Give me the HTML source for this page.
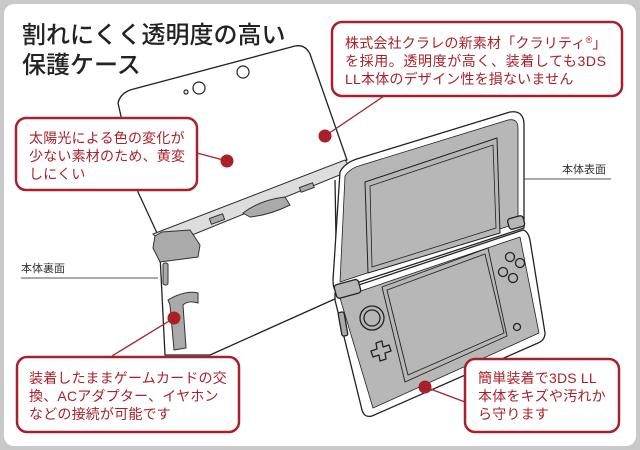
<!DOCTYPE html>
<html><head><meta charset="utf-8"><style>
html,body{margin:0;padding:0;background:#c8c8c8;}
body{width:640px;height:450px;overflow:hidden;}
svg{display:block}
text{font-family:"Liberation Sans","Noto Sans CJK JP",sans-serif;}
</style></head><body>
<svg width="640" height="450" viewBox="0 0 640 450" xmlns="http://www.w3.org/2000/svg">
<rect x="0" y="0" width="640" height="450" fill="#c9c9c9"/>
<rect x="4" y="4" width="632" height="442" rx="10" fill="#fff"/>

<!-- back shell lid -->
<g stroke="#222" stroke-width="1.3" stroke-linejoin="round" fill="#fff">
<path d="M118,103 Q120,94 130,90 L295,46 Q305,44 310,54 L347,160 L157,233 L138,192 Z"/>
<path d="M155,240 L160,255 L165,355 L210,355 L337,298 L335,180"/>
</g>
<g fill="#fff" stroke="#222" stroke-width="1.2">
<circle cx="243" cy="72" r="6"/><circle cx="199" cy="88" r="6"/><circle cx="186" cy="92" r="2"/>
</g>
<path d="M153,234 L345,160 L352,170 L165,246 Z" fill="#ddd" stroke="#333" stroke-width="1"/>
<path d="M155,236 L162,232 L190,230 L200,245 L198,257 L160,262 L153,248 Z" fill="#aaa" stroke="#333" stroke-width="1"/>
<path d="M243,213 Q260,200 285,197 L290,205 Q270,215 250,217 Z" fill="#aaa" stroke="#333" stroke-width="1"/>
<rect x="210" y="216" width="14" height="6" fill="#aaa" stroke="#333" transform="rotate(-20 217 219)"/>
<rect x="300" y="185" width="14" height="5" fill="#aaa" stroke="#333" transform="rotate(-20 307 188)"/>
<rect x="163" y="263" width="5" height="22" rx="2" fill="#aaa" stroke="#333"/>
<path d="M168,300 Q185,290 198,293 L198,303 Q188,300 183,305 L186,348 L174,350 L170,305 Z" fill="#aaa" stroke="#333" stroke-width="1"/>

<!-- front device -->
<g stroke="#222" stroke-width="1.3" stroke-linejoin="round">
<path d="M340,172 Q345,162 360,158 L510,112 Q524,110 524,125 L524,228 L335,290 Q333,287 333,280 Z" fill="#fff"/>
<path d="M345,176 Q350,168 362,165 L508,120 Q518,118 518,128 L518,223 L340,282 Z" fill="#b7b7b7" stroke-width="0.8"/>
<path d="M365,182 L497,138 L500,233 L368,273 Z" fill="#b7b7b7" stroke-width="1"/>
<path d="M370,186 L493,145 L496,228 L372,267 Z" fill="#b7b7b7" stroke-width="0.8"/>
<path d="M335,293 L523,230 Q528,231 530,240 L545,333 Q545,340 538,343 L372,416 Q364,418 362,410 L335,300 Z" fill="#fff"/>
<path d="M340,298 L520,237 L539,333 L373,408 Z" fill="#b7b7b7" stroke-width="0.8"/>
<path d="M382,287 L488,248 L507,336 L405,382 Z" fill="#b7b7b7" stroke-width="0.9"/>
<path d="M387,290 L485,254 L504,333 L408,375 Z" fill="#b7b7b7" stroke-width="0.9"/>
<rect x="335" y="282" width="25" height="14" rx="3" fill="#b7b7b7" transform="rotate(-15 347 289)"/>
<rect x="508" y="217" width="16" height="11" rx="3" fill="#b7b7b7" transform="rotate(-15 516 222)"/>
<circle cx="372" cy="318" r="12" fill="#b7b7b7"/><circle cx="372" cy="318" r="8" fill="#b7b7b7"/>
<path d="M376,343 l6,-2 l1,6 l6,-2 l2,6 l-6,2 l1,6 l-6,2 l-1,-6 l-6,2 l-2,-6 l6,-2 z" fill="#b7b7b7"/>
<circle cx="510" cy="257" r="4.5" fill="#b7b7b7"/><circle cx="520" cy="263" r="4.5" fill="#b7b7b7"/>
<circle cx="503" cy="272" r="4.5" fill="#b7b7b7"/><circle cx="513" cy="278" r="4.5" fill="#b7b7b7"/>
<circle cx="517" cy="327" r="3.5" fill="#b7b7b7"/>
<rect x="340" y="312" width="6" height="24" rx="2" fill="#aaa" transform="rotate(-10 343 324)"/>
</g>

<text x="562" y="173" font-size="11" fill="#333">本体表面</text>
<line x1="523" y1="179" x2="611" y2="179" stroke="#555" stroke-width="1"/>
<text x="21" y="272" font-size="11" fill="#333">本体裏面</text>
<line x1="21" y1="278" x2="158" y2="278" stroke="#777" stroke-width="1.2"/>

<text x="22" y="43" font-size="24" font-weight="500" fill="#222">割れにくく透明度の高い</text>
<text x="22" y="73" font-size="24" font-weight="500" fill="#222">保護ケース</text>

<g stroke="#a8202a" stroke-width="1.3">
<line x1="384" y1="96" x2="325" y2="136"/>
<line x1="197" y1="153" x2="227" y2="161"/>
<line x1="112" y1="356" x2="174" y2="318"/>
<line x1="465" y1="402" x2="425" y2="387"/>
</g>
<g fill="#a8202a">
<circle cx="325" cy="136" r="6.5"/><circle cx="227" cy="161" r="6.5"/>
<circle cx="174" cy="318" r="6.5"/><circle cx="425" cy="387" r="6.5"/>
</g>

<g fill="#fff" stroke="#a8202a" stroke-width="2.5">
<rect x="332" y="22" width="290" height="74" rx="10"/>
<rect x="16" y="118" width="181" height="72" rx="10"/>
<rect x="17" y="357" width="222" height="75" rx="10"/>
<rect x="465" y="359" width="154" height="73" rx="10"/>
</g>
<g font-size="14" fill="#a8202a" letter-spacing="0.2">
<text x="345" y="48">株式会社クラレの新素材「クラリティ<tspan font-size="9" dy="-5">®</tspan><tspan dy="5">」</tspan></text>
<text x="345" y="66" letter-spacing="0.6">を採用。透明度が高く、装着しても3DS</text>
<text x="345" y="84">LL本体のデザイン性を損ないません</text>
<text x="29" y="143">太陽光による色の変化が</text>
<text x="29" y="161">少ない素材のため、黄変</text>
<text x="29" y="179">しにくい</text>
<text x="29" y="383">装着したままゲームカードの交</text>
<text x="29" y="401">換、ACアダプター、イヤホン</text>
<text x="29" y="419">などの接続が可能です</text>
<text x="478" y="383">簡単装着で3DS LL</text>
<text x="478" y="401">本体をキズや汚れか</text>
<text x="478" y="419">ら守ります</text>
</g>
</svg>
</body></html>
